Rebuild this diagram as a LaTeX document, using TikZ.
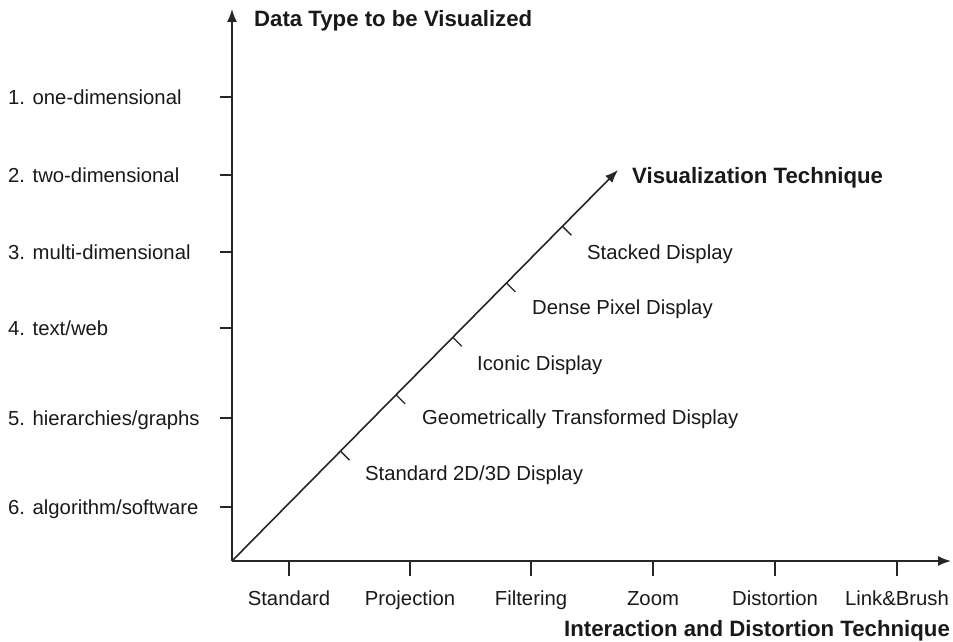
\documentclass[tikz,border=0pt]{standalone}
\usepackage{fontspec}
\setmainfont{Liberation Sans}
\usetikzlibrary{arrows.meta,calc}
\begin{document}
\begin{tikzpicture}[x=1pt,y=-1pt,
  axisline/.style={line width=1.6pt,draw=black!85},
  tickline/.style={line width=1.3pt,draw=black!85},
  tip/.style={-{Latex[length=13pt,width=10pt]}},
  lbl/.style={inner sep=0pt,text height=16.5pt,text depth=2pt,font=\fontsize{20.3}{24}\selectfont,text=black!90},
  blbl/.style={inner sep=0pt,text height=17pt,text depth=3pt,font=\fontsize{22.2}{26}\selectfont\bfseries,text=black!90}]
\useasboundingbox (0,0) rectangle (953,642);
% axes
\coordinate (O) at (232,561);
\coordinate (Ytop) at (232,9);
\coordinate (Xend) at (951,561);
\coordinate (Vend) at (618,170);
\draw[axisline,tip] (O) -- (Ytop);
\draw[axisline,tip] (O) -- (Xend);
\draw[axisline,tip] (O) -- (Vend);
% axis titles
\node[blbl,anchor=west] (ttlY) at (254,20) {Data Type to be Visualized};
\node[blbl,anchor=east] (ttlX) at (950,629) {Interaction and Distortion Technique};
\node[blbl,anchor=west] (ttlV) at (632,176) {Visualization Technique};
% data types
\foreach \y/\t [count=\i] in {97/{1. one-dimensional},175/{2. two-dimensional},252/{3. multi-dimensional},328/{4. text/web},418/{5. hierarchies/graphs},507/{6. algorithm/software}}{
  \coordinate (yt\i) at (232,\y);
  \draw[tickline] (yt\i) -- ++(-12,0);
  \node[lbl,anchor=west] (yl\i) at (8,\y) {\t};
}
% interaction techniques
\foreach \x/\t [count=\i] in {289/Standard,410/Projection,531/Filtering,653/Zoom,775/Distortion,897/Link\&Brush}{
  \coordinate (xt\i) at (\x,561);
  \draw[tickline] (xt\i) -- ++(0,15);
  \node[lbl] (xl\i) at (\x,598) {\t};
}
% visualization techniques
\foreach \p/\lx/\ly/\t [count=\i] in {0.281/365/473/{Standard 2D/3D Display},0.425/422/417/{Geometrically Transformed Display},0.572/477/363/{Iconic Display},0.711/532/307/{Dense Pixel Display},0.856/587/252/{Stacked Display}}{
  \coordinate (vt\i) at ($(O)!\p!(Vend)$);
  \draw[tickline] (vt\i) -- ++(9,9);
  \node[lbl,anchor=west] (vl\i) at (\lx,\ly) {\t};
}
\end{tikzpicture}
\end{document}
